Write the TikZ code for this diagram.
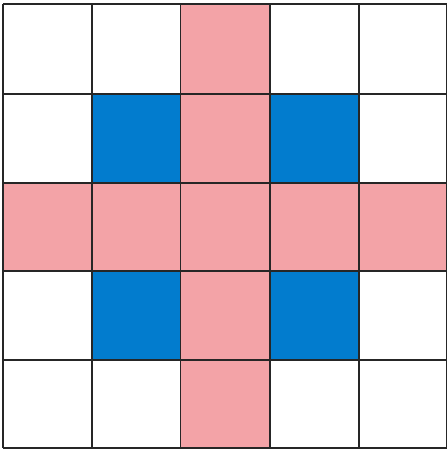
\documentclass[tikz,border=0pt]{standalone}
\definecolor{cellpink}{RGB}{243,163,167}
\definecolor{cellblue}{RGB}{2,124,206}
\begin{document}
\begin{tikzpicture}[x=1pt,y=-1pt,
  gridline/.style={draw=black!85,line width=1.3pt}]
\useasboundingbox (0,0) rectangle (447,453);
\fill[white] (0,0) rectangle (447,453);
% pink cross
\fill[cellpink] (180.5,4) rectangle (270,448);
\fill[cellpink] (3,183) rectangle (447,271);
% blue cells
\fill[cellblue] (92,94) rectangle (180.5,183);
\fill[cellblue] (270,94) rectangle (359,183);
\fill[cellblue] (92,271) rectangle (180.5,360);
\fill[cellblue] (270,271) rectangle (359,360);
% grid
\foreach \x in {3,92,180.5,270,359,447}
  \draw[gridline] (\x,4) -- (\x,448);
\foreach \y in {4,94,183,271,360,448}
  \draw[gridline] (3,\y) -- (447,\y);
\end{tikzpicture}
\end{document}
